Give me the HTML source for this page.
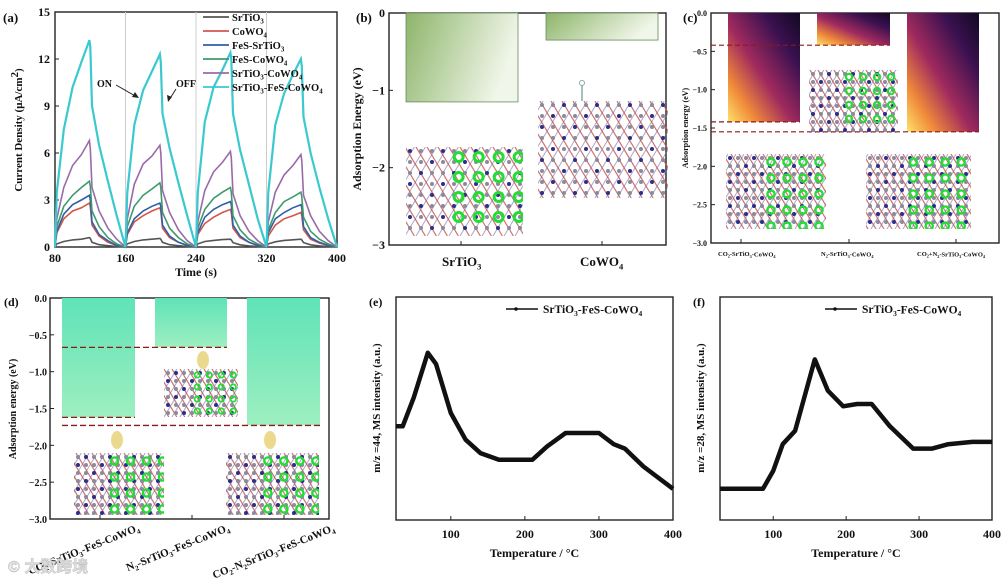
<!DOCTYPE html>
<html><head><meta charset="utf-8"><style>
html,body{margin:0;padding:0;background:#fff;}
svg{display:block;font-family:"Liberation Serif",serif;}
</style></head><body>
<svg id="fig" width="1005" height="579" viewBox="0 0 1005 579" xmlns="http://www.w3.org/2000/svg">
<defs>
<linearGradient id="gB" x1="0" y1="0" x2="1" y2="0.3"><stop offset="0" stop-color="#8db56a"/><stop offset="1" stop-color="#f1f6ea"/></linearGradient>
<linearGradient id="gC" x1="0" y1="1" x2="1" y2="0"><stop offset="0" stop-color="#fde26a"/><stop offset="0.2" stop-color="#f08a3a"/><stop offset="0.45" stop-color="#a02a5e"/><stop offset="0.75" stop-color="#3a1150"/><stop offset="1" stop-color="#120822"/></linearGradient>
<linearGradient id="gD" x1="0" y1="0" x2="0" y2="1"><stop offset="0" stop-color="#5fe3b8"/><stop offset="1" stop-color="#9eefc0"/></linearGradient>
</defs>
</svg>
<script>
// ---------- data ----------
const aSeriesNames = ["SrTiO3","CoWO4","FeS-SrTiO3","FeS-CoWO4","SrTiO3-CoWO4","SrTiO3-FeS-CoWO4"];
const aCycleOffsets = [0,2,10,20,30,39,40,42,50,60,70];
const aGray   = [0,0.2,0.35,0.45,0.5,0.6,0.55,0.3,0.15,0.08,0.03, 0,0.2,0.35,0.45,0.5,0.55,0.5,0.3,0.15,0.08,0.03, 0,0.2,0.35,0.42,0.47,0.5,0.45,0.28,0.14,0.07,0.03, 0,0.2,0.33,0.42,0.46,0.5,0.45,0.28,0.14,0.07,0.03, 0];
const aRed    = [0,0.9,1.8,2.3,2.5,2.8,2.6,1.4,0.7,0.3,0.1, 0,0.8,1.6,2.0,2.3,2.5,2.3,1.2,0.6,0.3,0.1, 0,0.8,1.5,1.9,2.2,2.4,2.2,1.2,0.6,0.3,0.1, 0,0.7,1.4,1.8,2.0,2.2,2.0,1.1,0.5,0.25,0.1, 0];
const aBlue   = [0,1.0,2.1,2.7,3.0,3.3,3.0,1.6,0.8,0.4,0.1, 0,0.9,1.8,2.3,2.6,2.8,2.6,1.4,0.7,0.3,0.1, 0,0.9,1.9,2.4,2.7,2.9,2.7,1.4,0.7,0.3,0.1, 0,0.9,1.8,2.2,2.5,2.7,2.5,1.3,0.6,0.3,0.1, 0];
const aGreen  = [0,1.3,2.6,3.3,3.8,4.2,3.9,2.3,1.3,0.6,0.2, 0,1.3,2.6,3.3,3.7,4.1,3.8,2.2,1.2,0.6,0.2, 0,1.2,2.4,3.1,3.5,3.8,3.5,2.0,1.1,0.5,0.2, 0,1.1,2.2,2.9,3.2,3.5,3.2,1.9,1.0,0.5,0.2, 0];
const aPurple = [0,1.8,3.8,5.2,5.9,6.8,6.3,3.8,2.3,1.2,0.5, 0,1.8,4.0,5.3,5.8,6.5,6.0,3.6,2.2,1.1,0.4, 0,1.6,3.6,4.8,5.4,6.1,5.7,3.4,2.0,1.0,0.4, 0,1.6,3.5,4.6,5.2,5.9,5.5,3.3,2.0,1.0,0.4, 0];
const aCyan   = [0,3.5,7.5,10.2,11.8,13.2,12.8,9.0,6.5,4.2,2.0, 0,3.5,7.8,10.0,11.2,12.3,11.8,8.5,6.3,4.1,2.0, 0,3.5,8.0,10.2,11.3,12.4,12.0,8.5,6.2,4.0,1.8, 0,3.5,7.8,9.8,11.0,12.0,11.5,8.3,6.0,3.8,1.8, 0];
const aXTicks = [80,160,240,320,400];
const aYTicks = [0,3,6,9,12,15];

const bCats = ["SrTiO3","CoWO4"];
const bVals = [-1.15,-0.35];
const bYTicks = [0,-1,-2,-3];

const cCats = ["CO2-SrTiO3-CoWO4","N2-SrTiO3-CoWO4","CO2+N2-SrTiO3-CoWO4"];
const cVals = [-1.42,-0.42,-1.55];
const cYTicks = [0,-0.5,-1.0,-1.5,-2.0,-2.5,-3.0];

const dCats = ["CO2-SrTiO3-FeS-CoWO4","N2-SrTiO3-FeS-CoWO4","CO2-N2-SrTiO3-FeS-CoWO4"];
const dVals = [-1.62,-0.67,-1.73];
const dYTicks = [0,-0.5,-1.0,-1.5,-2.0,-2.5,-3.0];

const eTemps = [26,35,50,69,80,100,120,140,165,210,230,255,300,320,335,360,400];
const eInt   = [0.42,0.42,0.55,0.75,0.70,0.48,0.36,0.30,0.27,0.27,0.33,0.39,0.39,0.34,0.32,0.24,0.14];
const fTemps = [27,86,100,113,130,157,175,196,215,235,260,292,318,340,373,400];
const fInt   = [0.14,0.14,0.22,0.34,0.40,0.72,0.58,0.51,0.52,0.52,0.42,0.32,0.32,0.34,0.35,0.35];
const tempTicks = [100,200,300,400];

// ---------- helpers ----------
const NS="http://www.w3.org/2000/svg";
const svg=document.getElementById('fig');
function el(tag,attrs,parent,txt){const e=document.createElementNS(NS,tag);for(const k in attrs)e.setAttribute(k,attrs[k]);if(txt!==undefined)e.textContent=txt;(parent||svg).appendChild(e);return e;}
function lin(d0,d1,r0,r1){return v=>r0+(v-d0)*(r1-d0===0?0:(r1-r0))/(d1-d0);}
function grp(name){const g=el('g',{});return g;}
function txt(parent,name,x,y,s,size,opts){opts=opts||{};const t=el('text',Object.assign({x:x,y:y,'font-size':size,'font-weight':'bold','fill':'#111'},opts),parent,s);return t;}
function sub(parent,name,x,y,parts,size,opts){ // parts: [[text,isSub],...]
  const t=el('text',Object.assign({x:x,y:y,'font-size':size,'font-weight':'bold','fill':'#111'},opts||{}),parent);
  
  parts.forEach(p=>{const ts=el('tspan',p[1]?{'font-size':size*0.65,dy:size*0.25}:{dy:p[2]||0},t,p[0]);});
  return t;}
function frame(g,x0,y0,x1,y1){const r=el('rect',{x:x0,y:y0,width:x1-x0,height:y1-y0,fill:'none',stroke:'#222','stroke-width':1.4},g);}
function lattice(g,x,y,w,h,green,dense){
  const L=grp('crystal-structure');g.appendChild(L);
  const st=dense?8:11;
  for(let i=-h;i<w+h;i+=st){el('line',{x1:x+i,y1:y,x2:x+i+h*0.6,y2:y+h,stroke:'#c0504d','stroke-width':1.2,opacity:0.8},L);
    el('line',{x1:x+i+h*0.6,y1:y,x2:x+i,y2:y+h,stroke:'#7a6aa0','stroke-width':1,opacity:0.6},L);}
  el('rect',{x:x-2,y:y-2,width:3,height:3,fill:'none'},L);
  // clip
  const id='c'+Math.round(x)+'_'+Math.round(y);
  const cp=el('clipPath',{id:id},L);el('rect',{x:x,y:y,width:w,height:h},cp);L.setAttribute('clip-path','url(#'+id+')');
  for(let yy=y+4;yy<y+h;yy+=st)for(let xx=x+4;xx<x+w;xx+=st){
    el('circle',{cx:xx,cy:yy,r:2,fill:((xx+yy)%3<1)?'#2a2f8a':'#8a8a9a'},L);}
  if(green){const gs=green;for(let yy=y+gs;yy<y+h;yy+=gs*2)for(let xx=x+w*0.45;xx<x+w;xx+=gs*2)
    el('circle',{cx:xx,cy:yy,r:gs*0.45,fill:'none',stroke:'#22dd33','stroke-width':gs*0.3},L);}
  return L;}

// ================= Panel A =================
(function(){
const g=grp('panel-a');
const X=lin(80,400,55,337),Y=v=>247-v*(235/15);
frame(g,55,12,337,247);
[160,240,320].forEach(t=>{const l=el('line',{x1:X(t),y1:12,x2:X(t),y2:247,stroke:'#ccc','stroke-width':1},g);});
aXTicks.forEach(t=>{el('line',{x1:X(t),y1:247,x2:X(t),y2:243,stroke:'#222'},g);txt(g,'x-tick-label',X(t),262,t,12,{'text-anchor':'middle'});});
aYTicks.forEach(t=>{el('line',{x1:55,y1:Y(t),x2:59,y2:Y(t),stroke:'#222'},g);txt(g,'y-tick-label',50,Y(t)+4,t,12,{'text-anchor':'end'});});
txt(g,'x-axis-title',196,276,'Time (s)',12,{'text-anchor':'middle'});
sub(g,'y-axis-title',0,0,[['Current Density (μA/cm'],['2',false,-4],[')',false,4]],11,{transform:'translate(22,130) rotate(-90)','text-anchor':'middle'});
txt(g,'panel-label',3,22,'(a)',13);
const series=[[aGray,'#555'],[aRed,'#d2574a'],[aBlue,'#2f5fa8'],[aGreen,'#3f9a6a'],[aPurple,'#9a6aa8'],[aCyan,'#39c9cf']];
series.forEach((s,si)=>{let d='';const vals=s[0];let k=0;
  for(let c=0;c<4;c++)for(let j=0;j<aCycleOffsets.length;j++){const t=80+c*80+aCycleOffsets[j];d+=(k?'L':'M')+X(t).toFixed(1)+' '+Y(vals[k]).toFixed(1);k++;}
  d+='L'+X(400)+' '+Y(vals[k]);
  const p=el('path',{d:d,fill:'none',stroke:s[1],'stroke-width':si==5?2.2:1.6},g);});
const lg=grp('legend');g.appendChild(lg);
const legParts=[[['SrTiO'],['3',1]],[['CoWO'],['4',1]],[['FeS-SrTiO'],['3',1]],[['FeS-CoWO'],['4',1]],[['SrTiO'],['3',1],['-CoWO',false,-2.6],['4',1]],[['SrTiO'],['3',1],['-FeS-CoWO',false,-2.6],['4',1]]];
series.forEach((s,i)=>{const yy=17+i*14;const l=el('line',{x1:203,y1:yy,x2:229,y2:yy,stroke:s[1],'stroke-width':1.8},lg);sub(lg,'legend-entry',232,yy+4,legParts[i],10.5);});
txt(g,'on-annotation',97,87,'ON',10);
el('line',{x1:116,y1:85,x2:137,y2:97,stroke:'#222','stroke-width':1},g);el('path',{d:'M139 98 L132 97 L135 92Z',fill:'#222'},g);
txt(g,'off-annotation',176,87,'OFF',10);
el('line',{x1:176,y1:89,x2:169,y2:100,stroke:'#222','stroke-width':1},g);el('path',{d:'M168 102 L167 95 L172 97Z',fill:'#222'},g);
})();

// ================= Panel B =================
(function(){
const g=grp('panel-b');
const Y=lin(0,-3,13,245);const xs=[[406,518],[546,658]];const ticks=[461,602];
frame(g,389,13,666,245);
bCats.forEach((c,i)=>{const r=el('rect',{x:xs[i][0],y:Y(0),width:xs[i][1]-xs[i][0],height:Y(bVals[i])-Y(0),fill:'url(#gB)',stroke:'#6a8a5a','stroke-width':0.8},g);
 el('line',{x1:ticks[i],y1:245,x2:ticks[i],y2:241,stroke:'#222'},g);});
bYTicks.forEach(t=>{el('line',{x1:389,y1:Y(t),x2:393,y2:Y(t),stroke:'#222'},g);txt(g,'y-tick-label',385,Y(t)+4,t===0?'0':'−'+(-t),12,{'text-anchor':'end'});});
sub(g,'x-tick-label',442,266,[['SrTiO'],['3',1]],13);
sub(g,'x-tick-label',580,266,[['CoWO'],['4',1]],13);
txt(g,'y-axis-title',0,0,'Adsorption Energy (eV)',12,{transform:'translate(361,129) rotate(-90)','text-anchor':'middle'});
txt(g,'panel-label',356,22,'(b)',13);
lattice(g,406,147,117,89,10);
lattice(g,538,101,130,97,0);
el('line',{x1:582,y1:101,x2:582,y2:85,stroke:'#8aa',"stroke-width":1.5},g);el('circle',{cx:582,cy:83,r:2.5,fill:'none',stroke:'#8aa'},g);
})();

// ================= Panel C =================
(function(){
const g=grp('panel-c');
const Y=lin(0,-3,13,243);const xs=[[728,800],[817,890],[907,979]];const ticks=[741,849,956];
frame(g,711,13,999,243);
cCats.forEach((c,i)=>{const r=el('rect',{x:xs[i][0],y:Y(0),width:xs[i][1]-xs[i][0],height:Y(cVals[i])-Y(0),fill:'url(#gC)'},g);
 el('line',{x1:ticks[i],y1:243,x2:ticks[i],y2:239,stroke:'#222'},g);});
const dl=[[711,890,cVals[1]],[711,800,cVals[0]],[711,979,cVals[2]]];
dl.forEach(d=>{const l=el('line',{x1:d[0],y1:Y(d[2]),x2:d[1],y2:Y(d[2]),stroke:'#8b1a1a','stroke-width':1.2,'stroke-dasharray':'5 3'},g);});
cYTicks.forEach(t=>{el('line',{x1:711,y1:Y(t),x2:715,y2:Y(t),stroke:'#222'},g);txt(g,'y-tick-label',707,Y(t)+3,t.toFixed(1).replace('-','−'),8,{'text-anchor':'end'});});
sub(g,'x-tick-label',718,256,[['CO'],['2',1],['-SrTiO',false,-1.5],['3',1],['-CoWO',false,-1.5],['4',1]],6.5);
sub(g,'x-tick-label',821,256,[['N'],['2',1],['-SrTiO',false,-1.5],['3',1],['-CoWO',false,-1.5],['4',1]],6.5);
sub(g,'x-tick-label',917,256,[['CO'],['2',1],['+N',false,-1.5],['2',1],['-SrTiO',false,-1.5],['3',1],['-CoWO',false,-1.5],['4',1]],6.5);
txt(g,'y-axis-title',0,0,'Adsorption energy (eV)',8,{transform:'translate(688,128) rotate(-90)','text-anchor':'middle'});
txt(g,'panel-label',683,22,'(c)',13);
lattice(g,809,70,89,63,7,1);
lattice(g,726,154,100,75,8,1);
lattice(g,866,154,105,75,8,1);
})();

// ================= Panel D =================
(function(){
const g=grp('panel-d');
const Y=lin(0,-3,298,519);const xs=[[62,135],[155,227],[247,320]];const ticks=[100,192,284];
frame(g,50,298,329,519);
dCats.forEach((c,i)=>{const r=el('rect',{x:xs[i][0],y:Y(0),width:xs[i][1]-xs[i][0],height:Y(dVals[i])-Y(0),fill:'url(#gD)'},g);
 el('line',{x1:ticks[i],y1:519,x2:ticks[i],y2:515,stroke:'#222'},g);});
const dl=[[62,227,dVals[1]],[62,135,dVals[0]],[62,320,dVals[2]]];
dl.forEach(d=>{const l=el('line',{x1:d[0],y1:Y(d[2]),x2:d[1],y2:Y(d[2]),stroke:'#8b1a1a','stroke-width':1.3,'stroke-dasharray':'6 3'},g);});
dYTicks.forEach(t=>{el('line',{x1:50,y1:Y(t),x2:54,y2:Y(t),stroke:'#222'},g);txt(g,'y-tick-label',47,Y(t)+4,t.toFixed(1).replace('-','−'),10,{'text-anchor':'end'});});
txt(g,'y-axis-title',0,0,'Adsorption energy (eV)',10,{transform:'translate(16,409) rotate(-90)','text-anchor':'middle'});
txt(g,'panel-label',4,306,'(d)',12);
sub(g,'x-tick-label',0,0,[['CO'],['2',1],['-SrTiO',false,-2.5],['3',1],['-FeS-CoWO',false,-2.5],['4',1]],11,{transform:'translate(140,530) rotate(-22)','text-anchor':'end'});
sub(g,'x-tick-label',0,0,[['N'],['2',1],['-SrTiO',false,-2.5],['3',1],['-FeS-CoWO',false,-2.5],['4',1]],11,{transform:'translate(230,530) rotate(-22)','text-anchor':'end'});
sub(g,'x-tick-label',0,0,[['CO'],['2',1],['-N',false,-2.5],['2',1],['SrTiO',false,-2.5],['3',1],['-FeS-CoWO',false,-2.5],['4',1]],11,{transform:'translate(335,530) rotate(-22)','text-anchor':'end'});
lattice(g,164,369,74,48,6,1);
lattice(g,74,453,90,62,8,1);
lattice(g,226,453,93,62,8,1);
[[203,360],[117,440],[270,440]].forEach(p=>{const m=el('ellipse',{cx:p[0],cy:p[1],rx:6,ry:9,fill:'#e8d27a',opacity:0.85},g);});
txt(g,'watermark',8,572,'© 大数跨境',16,{fill:'#ddd','font-family':'"Liberation Sans","Noto Sans CJK SC",sans-serif',stroke:'#bbb','stroke-width':0.4});
})();

// ================= Panels E & F =================
function msPanel(name,x0,x1,xmin,temps,ints,ylabel,label){
const g=grp(name);
const X=lin(xmin,400,x0,x1),Y=v=>520-v*223;
frame(g,x0,297,x1,520);
tempTicks.forEach(t=>{el('line',{x1:X(t),y1:520,x2:X(t),y2:516,stroke:'#222'},g);txt(g,'x-tick-label',X(t),538,t,12,{'text-anchor':'middle'});});
let d='';temps.forEach((t,i)=>{d+=(i?'L':'M')+X(t).toFixed(1)+' '+Y(ints[i]).toFixed(1);});
const p=el('path',{d:d,fill:'none',stroke:'#111','stroke-width':4.5,'stroke-linejoin':'round'},g);
txt(g,'x-axis-title',(x0+x1)/2,557,'Temperature / °C',12,{'text-anchor':'middle'});
txt(g,'y-axis-title',0,0,ylabel,11,{transform:'translate('+(x0-16)+',408) rotate(-90)','text-anchor':'middle'});
txt(g,'panel-label',x0-27,306,label,12);
const lg=grp('legend');g.appendChild(lg);
el('line',{x1:x1-167,y1:309,x2:x1-135,y2:309,stroke:'#111','stroke-width':1.5},lg);el('circle',{cx:x1-157,cy:309,r:1.8,fill:'#111'},lg);
sub(lg,'legend-entry',x1-130,313,[['SrTiO'],['3',1],['-FeS-CoWO',false,-2.6],['4',1]],11.5);
}
msPanel('panel-e',396,673,26,eTemps,eInt,'m/z =44, MS intensity (a.u.)','(e)');
msPanel('panel-f',720,992,27,fTemps,fInt,'m/z =28, MS intensity (a.u.)','(f)');
</script>
</body></html>
